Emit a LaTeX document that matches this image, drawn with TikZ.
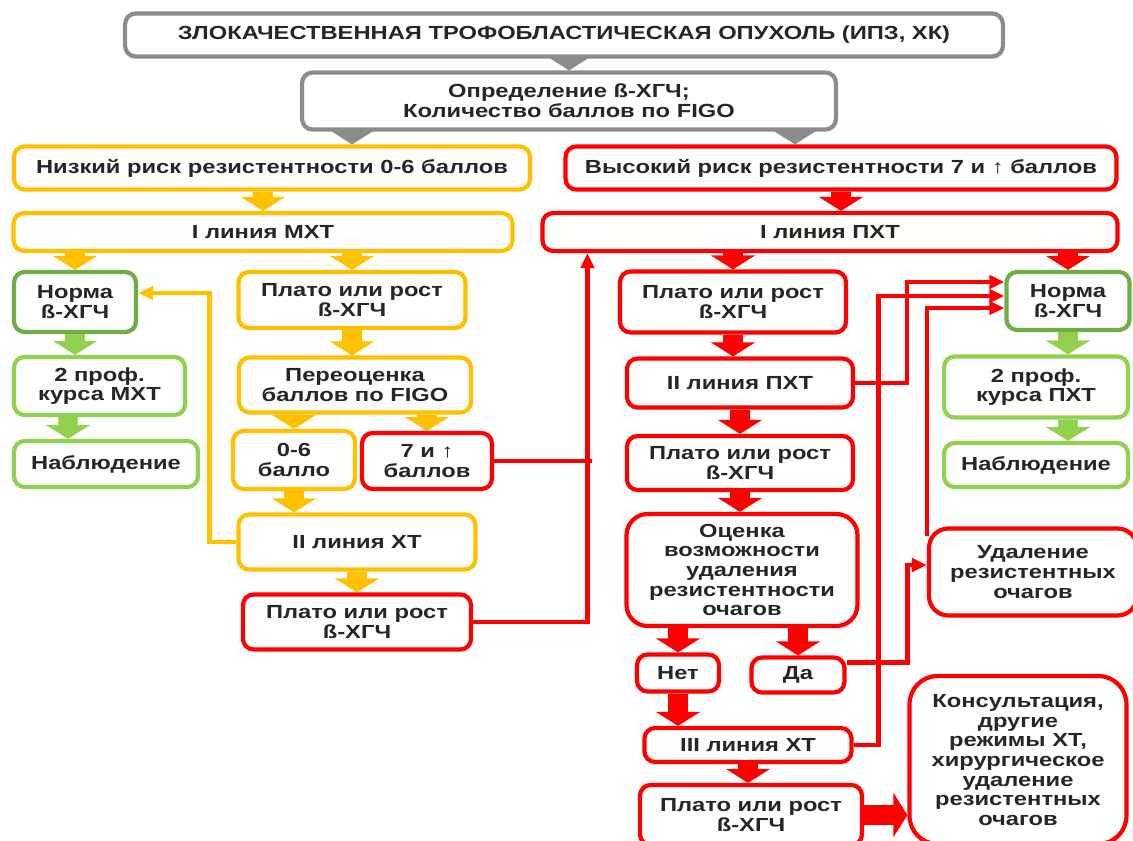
\documentclass[tikz,border=0pt]{standalone}
\usepackage{fontspec}
\setmainfont{Liberation Sans}[FakeStretch=1.25]
\usepackage{tikz}
\usetikzlibrary{arrows.meta,calc,positioning}

\definecolor{ygold}{HTML}{FFC000}
\definecolor{rred}{HTML}{FF0000}
\definecolor{ggray}{HTML}{8C8C8C}
\definecolor{dgreen}{HTML}{70AD47}
\definecolor{lgreen}{HTML}{92D050}
\definecolor{txt}{HTML}{262626}

\begin{document}
\begin{tikzpicture}[x=0.02cm,y=-0.02cm,
  box/.style={draw,line width=2.4pt,rounded corners=6pt,fill=white,align=center,
    inner sep=1pt,text=txt,font=\fontsize{10.8}{11.2}\selectfont\bfseries},
  gbox/.style={box,draw=ggray},
  ybox/.style={box,draw=ygold},
  rbox/.style={box,draw=rred},
  dbox/.style={box,draw=dgreen},
  lbox/.style={box,draw=lgreen},
  barrow/.style={line width=11pt,-{Triangle[length=8pt,width=25pt]}},
  link/.style={line width=2.4pt,-{Triangle[length=8.5pt,width=7.5pt]}}]
  \useasboundingbox (0,0) rectangle (1133,841);

  \node[gbox,minimum width=17.56cm,minimum height=0.86cm] (title) at (564,35) {ЗЛОКАЧЕСТВЕННАЯ ТРОФОБЛАСТИЧЕСКАЯ ОПУХОЛЬ (ИПЗ, ХК)};
  \node[gbox,minimum width=10.68cm,minimum height=1.14cm] (def) at (569,101) {Определение ß-ХГЧ;\\Количество баллов по FIGO};
  \node[ybox,minimum width=10.32cm,minimum height=0.86cm] (low) at (272,168) {Низкий риск резистентности 0-6 баллов};
  \node[rbox,minimum width=11.02cm,minimum height=0.86cm] (high) at (841,168) {Высокий риск резистентности 7 и {\mdseries ↑} баллов};
  \node[ybox,minimum width=9.98cm,minimum height=0.76cm] (imxt) at (263,232) {I линия МХТ};
  \node[rbox,minimum width=11.5cm,minimum height=0.76cm] (ipxt) at (830,232) {I линия ПХТ};

  \node[dbox,minimum width=2.44cm,minimum height=1.2cm] (normaL) at (75,302) {Норма\\ß-ХГЧ};
  \node[lbox,minimum width=3.42cm,minimum height=1.16cm] (prof1) at (99.5,386) {2 проф.\\курса МХТ};
  \node[lbox,minimum width=3.68cm,minimum height=0.92cm] (nabl1) at (106,464) {Наблюдение};

  \node[ybox,minimum width=4.54cm,minimum height=1.12cm] (platoA) at (352,300) {Плато или рост\\ß-ХГЧ};
  \node[ybox,minimum width=4.64cm,minimum height=1.1cm] (pere) at (355,385) {Переоценка\\баллов по FIGO};
  \node[ybox,minimum width=2.44cm,minimum height=1.16cm] (zero6) at (294,460) {0-6\\балло};
  \node[rbox,minimum width=2.6cm,minimum height=1.12cm] (seven) at (427,461) {7 и {\mdseries ↑}\\баллов};
  \node[ybox,minimum width=4.74cm,minimum height=1.1cm] (iixt) at (357,542) {II линия ХТ};
  \node[rbox,minimum width=4.56cm,minimum height=1.1cm] (platoB) at (357,622) {Плато или рост\\ß-ХГЧ};

  \node[rbox,minimum width=4.52cm,minimum height=1.22cm] (platoC) at (733,302) {Плато или рост\\ß-ХГЧ};
  \node[rbox,minimum width=4.52cm,minimum height=0.98cm] (iipxt) at (740,383) {II линия ПХТ};
  \node[rbox,minimum width=4.52cm,minimum height=1.08cm] (platoD) at (740,463) {Плато или рост\\ß-ХГЧ};
  \node[rbox,rounded corners=12pt,minimum width=4.62cm,minimum height=2.24cm] (ocenka) at (742,570) {Оценка\\возможности\\удаления\\резистентности\\очагов};
  \node[rbox,minimum width=1.64cm,minimum height=0.74cm] (net) at (678,673) {Нет};
  \node[rbox,minimum width=1.86cm,minimum height=0.7cm] (da) at (798,675) {Да};
  \node[rbox,minimum width=4.14cm,minimum height=0.68cm] (iiixt) at (748,745) {III линия ХТ};
  \node[rbox,minimum width=4.44cm,minimum height=1.2cm] (platoE) at (751,815) {Плато или рост\\ß-ХГЧ};
  \node[rbox,rounded corners=16pt,minimum width=4.34cm,minimum height=3.36cm] (kons) at (1018,760) {Консультация,\\другие\\режимы ХТ,\\хирургическое\\удаление\\резистентных\\очагов};

  \node[dbox,minimum width=2.46cm,minimum height=1.16cm] (normaR) at (1068,301) {Норма\\ß-ХГЧ};
  \node[lbox,minimum width=3.68cm,minimum height=1.22cm] (prof2) at (1036,387) {2 проф.\\курса ПХТ};
  \node[lbox,minimum width=3.68cm,minimum height=0.88cm] (nabl2) at (1036,465) {Наблюдение};
  \node[rbox,rounded corners=11pt,minimum width=4.16cm,minimum height=1.74cm] (udal) at (1033,572) {Удаление\\резистентных\\очагов};

  \draw[barrow,ggray] (title.south -| def.north) -- (def.north);
  \draw[barrow,ggray] ([xshift=-4.34cm]def.south) -- ([xshift=1.6cm]low.north);
  \draw[barrow,ggray] ([xshift=4.52cm]def.south) -- ([xshift=-0.92cm]high.north);
  \draw[barrow,ygold] (low.south -| imxt.north) -- (imxt.north);
  \draw[barrow,rred] (high.south) -- (high.south |- ipxt.north);
  \draw[barrow,ygold] (imxt.south -| normaL.north) -- (normaL.north);
  \draw[barrow,ygold] (imxt.south -| platoA.north) -- (platoA.north);
  \draw[barrow,rred] (ipxt.south -| platoC.north) -- (platoC.north);
  \draw[barrow,rred] (ipxt.south -| normaR.north) -- (normaR.north);
  \draw[barrow,lgreen] (normaL.south) -- (normaL.south |- prof1.north);
  \draw[barrow,lgreen] ([xshift=-0.63cm]prof1.south) -- ([xshift=-0.76cm]nabl1.north);
  \draw[barrow,ygold] (platoA.south) -- (platoA.south |- pere.north);
  \draw[barrow,ygold] (pere.south -| zero6.north) -- (zero6.north);
  \draw[barrow,ygold] (pere.south -| seven.north) -- (seven.north);
  \draw[barrow,ygold] (zero6.south) -- (zero6.south |- iixt.north);
  \draw[barrow,ygold] (iixt.south) -- (platoB.north);
  \draw[barrow,rred] (platoC.south) -- (platoC.south |- iipxt.north);
  \draw[barrow,rred] (iipxt.south) -- (platoD.north);
  \draw[barrow,rred] (platoD.south) -- (platoD.south |- ocenka.north);
  \draw[barrow,rred] (ocenka.south -| net.north) -- (net.north);
  \draw[barrow,rred] (ocenka.south -| da.north) -- (da.north);
  \draw[barrow,rred] (net.south) -- (net.south |- iiixt.north);
  \draw[barrow,rred] (iiixt.south) -- (iiixt.south |- platoE.north);
  \draw[barrow,rred] (platoE.east) -- (platoE.east -| kons.west);
  \draw[barrow,lgreen] (normaR.south) -- (normaR.south |- prof2.north);
  \draw[barrow,lgreen] (prof2.south -| normaR.south) -- (nabl2.north -| normaR.south);

  \draw[link,ygold] (iixt.west) -- ++(-27,0) |- ([yshift=0.18cm]normaL.east);
  \draw[link,rred] (platoB.east) -| ([xshift=0.94cm]ipxt.south west);
  \draw[line width=2.4pt,rred] (seven.east) -- ++(98,0);
  \draw[link,rred] (iipxt.east) -- ++(52,0) |- ([yshift=0.38cm]normaR.west);
  \draw[link,rred] (iiixt.east) -- ++(25,0) |- ([yshift=0.1cm]normaR.west);
  \draw[link,rred] ([yshift=-0.2cm]udal.north west) |- ([yshift=-0.14cm]normaR.west);
  \draw[link,rred] ([yshift=0.25cm]da.east) -- ++(61,0) |- ([yshift=0.14cm]udal.west);
\end{tikzpicture}
\end{document}
